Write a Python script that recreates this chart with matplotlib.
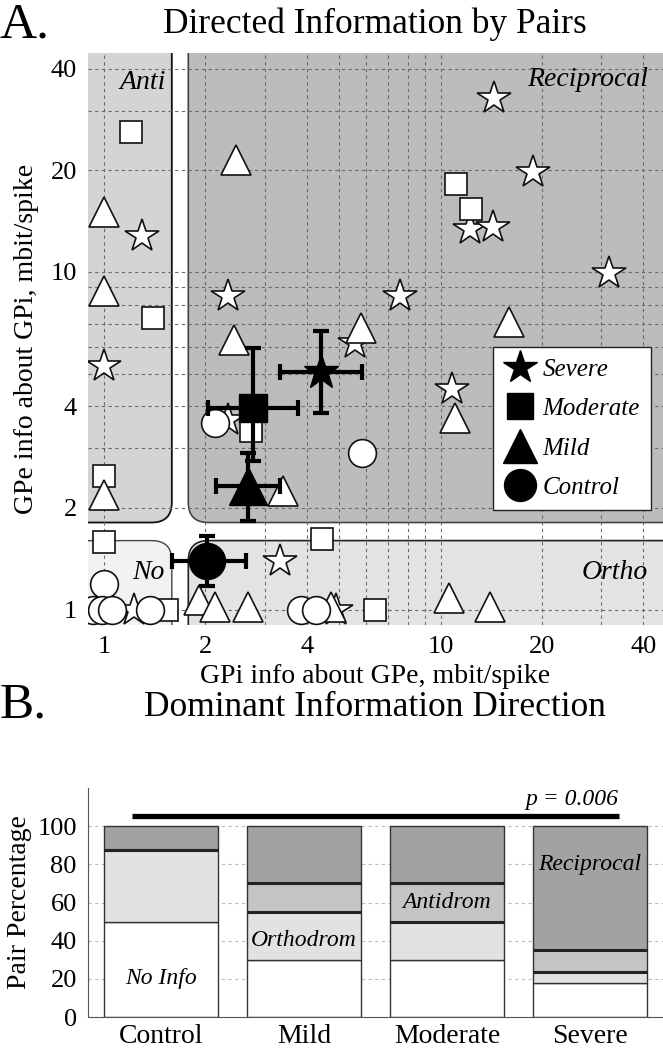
import matplotlib
matplotlib.use("Agg")
import matplotlib.pyplot as plt
from matplotlib.patches import FancyBboxPatch
from matplotlib.lines import Line2D

plt.rcParams["font.family"] = ["Liberation Serif", "DejaVu Serif"]

# ---- panel A: single pairs, (GPi info about GPe, GPe info about GPi), mbit/spike
severe_x = [1.295, 2.33, 7.58, 14.4, 18.8, 12.2, 14.3, 31.7, 5.57, 1.0, 10.8, 3.33, 1.23, 4.88, 2.33]
severe_y = [12.8, 8.46, 8.46, 32.7, 19.8, 13.4, 13.6, 9.92, 6.16, 5.25, 4.5, 1.39, 1.0, 1.0, 3.65]

moderate_x = [1.2, 1.40, 11.1, 12.3, 2.74, 1.0, 1.0, 4.45, 6.39, 1.54]
moderate_y = [25.9, 7.3, 18.2, 15.4, 3.37, 2.48, 1.58, 1.62, 1.0, 1.0]

mild_x = [2.47, 1.0, 1.0, 2.44, 5.82, 16.0, 11.0, 1.0, 3.41, 1.91, 2.13, 2.68, 4.71, 10.6, 14.0]
mild_y = [21.5, 15.0, 8.75, 6.3, 6.84, 7.13, 3.69, 2.19, 2.25, 1.07, 1.02, 1.02, 1.02, 1.085, 1.02]

control_x = [2.14, 5.83, 1.0, 0.93, 0.985, 1.055, 1.37, 3.85, 4.26]
control_y = [3.57, 2.9, 1.19, 1.0, 1.0, 1.0, 1.0, 1.0, 1.0]

# group means with error ranges
groups = ["Severe", "Moderate", "Mild", "Control"]
mean_x = [4.40, 2.78, 2.68, 2.02]
mean_y = [5.07, 3.95, 2.32, 1.39]
x_lo = [3.33, 2.03, 2.15, 1.59]
x_hi = [5.86, 3.78, 3.33, 2.64]
y_lo = [3.82, 2.75, 1.83, 1.17]
y_hi = [6.67, 5.95, 2.91, 1.65]

x_ticks = [1, 2, 4, 10, 20, 40]
y_ticks = [1, 2, 4, 10, 20, 40]
grid_vals = [1, 2, 3, 4, 5, 6, 7, 8, 9, 10, 20, 30, 40]

# ---- panel B: dominant direction, % of pairs
categories = ["Control", "Mild", "Moderate", "Severe"]
no_info = [50, 30, 30, 17.6]
orthodrom = [37.5, 25, 20, 5.9]
antidrom = [0, 15, 20, 11.8]
reciprocal = [12.5, 30, 30, 64.7]

MARKERS = {"Severe": "*", "Moderate": "s", "Mild": "^", "Control": "o"}
OPEN_MS = {"Severe": 25, "Moderate": 16, "Mild": 22, "Control": 20}
MEAN_MS = {"Severe": 26, "Moderate": 20, "Mild": 27, "Control": 26}
LEG_MS = {"Severe": 25, "Moderate": 19, "Mild": 25, "Control": 23}

fig = plt.figure(figsize=(6.63, 10.5), dpi=100)

# =================== A ===================
ax = fig.add_axes([0.1327, 0.4048, 0.8673, 0.5450])
ax.set_xscale("log")
ax.set_yscale("log")
ax.set_xlim(0.896, 45.8)
ax.set_ylim(0.9, 44.6)
for s in ax.spines.values():
    s.set_visible(False)

ax.set_xticks(x_ticks)
ax.set_xticklabels([str(t) for t in x_ticks])
ax.set_yticks(y_ticks)
ax.set_yticklabels([str(t) for t in y_ticks])
ax.set_xticks(grid_vals, minor=True)
ax.set_yticks(grid_vals, minor=True)
ax.tick_params(which="both", length=0, labelsize=19)
ax.tick_params(axis="x", pad=8)
ax.tick_params(axis="y", pad=8)
ax.tick_params(which="minor", labelbottom=False, labelleft=False)
ax.set_axisbelow(True)
ax.grid(which="both", color="#6a6a6a", lw=0.8, linestyle=(0, (3, 3)))


def frac(x, y):
    return ax.transAxes.inverted().transform(ax.transData.transform((x, y)))


# quadrant backgrounds (split between ~1.6 and ~1.8 mbit/spike)
xl, yl = frac(1.59, 1.60)
xr, yu = frac(1.78, 1.81)
R = "round,pad=0,rounding_size=0.035"
regions = [
    # (x0, y0, x1, y1, face, edge, lw)
    (-0.3, yu, xl, 1.3, "#d4d4d4", "#111111", 1.3),   # anti
    (xr, yu, 1.3, 1.3, "#bcbcbc", "#444444", 1.2),    # reciprocal
    (xr, -0.3, 1.3, yl, "#e3e3e3", "#222222", 1.2),   # ortho
    (-0.3, -0.3, xl, yl, "#f2f2f2", "#444444", 1.0),  # no info
]
for x0, y0, x1, y1, fc, ec, lw in regions:
    ax.add_patch(FancyBboxPatch((x0, y0), x1 - x0, y1 - y0, boxstyle=R,
                                transform=ax.transAxes, fc=fc, ec=ec, lw=lw,
                                zorder=0.1))

lab = dict(transform=ax.transAxes, style="italic", size=20, va="center")
ax.text(0.136, 0.948, "Anti", ha="right", **lab)
ax.text(0.974, 0.954, "Reciprocal", ha="right", **lab)
ax.text(0.134, 0.091, "No", ha="right", **lab)
ax.text(0.973, 0.091, "Ortho", ha="right", **lab)

pts = {"Severe": (severe_x, severe_y), "Moderate": (moderate_x, moderate_y),
       "Mild": (mild_x, mild_y), "Control": (control_x, control_y)}
for i, g in enumerate(groups):
    gx, gy = pts[g]
    ax.plot(gx, gy, ls="none", marker=MARKERS[g], ms=OPEN_MS[g], mfc="white",
            mec="#111111", mew=1.2, zorder=2 + i)

for i, g in enumerate(groups):
    ax.errorbar([mean_x[i]], [mean_y[i]],
                xerr=[[mean_x[i] - x_lo[i]], [x_hi[i] - mean_x[i]]],
                yerr=[[mean_y[i] - y_lo[i]], [y_hi[i] - mean_y[i]]],
                fmt=MARKERS[g], color="black", ms=MEAN_MS[g], elinewidth=3,
                capsize=6, capthick=3, zorder=10)

handles = [Line2D([], [], ls="none", marker=MARKERS[g], color="black",
                  ms=LEG_MS[g]) for g in groups]
leg = ax.legend(handles, groups, loc="upper left", bbox_to_anchor=(0.704, 0.486),
                borderaxespad=0, frameon=True, fancybox=False, framealpha=1,
                edgecolor="#222222", prop=dict(style="italic", size=18),
                labelspacing=0.68, handlelength=1.25, handletextpad=0.3,
                borderpad=0.45)
leg.set_zorder(20)

ax.set_xlabel("GPi info about GPe, mbit/spike", fontsize=20, labelpad=4)
ax.set_ylabel("GPe info about GPi, mbit/spike", fontsize=20, labelpad=8)

fig.text(0.0, 1 - 25 / 1050, "A.", ha="left", va="center", size=37)
fig.text(0.566, 1 - 24 / 1050, "Directed Information by Pairs", ha="center",
         va="center", size=25.5)

# =================== B ===================
bx = fig.add_axes([0.1327, 0.0314, 0.8673, 0.2181])
pos = list(range(1, len(categories) + 1))
bottom = [0.0] * len(categories)
layers = [(no_info, "white"), (orthodrom, "#e2e2e2"),
          (antidrom, "#c4c4c4"), (reciprocal, "#a2a2a2")]
for vals, fc in layers:
    bx.bar(pos, vals, bottom=bottom, width=0.8, color=fc, edgecolor="#333333",
           lw=1.0, zorder=2)
    if vals is antidrom:
        # antidromic segment is drawn with heavier borders
        for p, b, v in zip(pos, bottom, vals):
            bx.hlines([b, b + v], p - 0.4, p + 0.4, color="#222222", lw=2.2,
                      zorder=3)
    bottom = [b + v for b, v in zip(bottom, vals)]

bx.set_xlim(0.49, 4.51)
bx.set_ylim(0, 120)
bx.set_yticks([0, 20, 40, 60, 80, 100])
bx.set_xticks(pos)
bx.set_xticklabels(categories)
bx.tick_params(length=0, labelsize=19)
bx.tick_params(axis="x", pad=5, labelsize=20)
bx.tick_params(axis="y", pad=8)
for side in ("top", "right"):
    bx.spines[side].set_visible(False)
for side in ("left", "bottom"):
    bx.spines[side].set_color("#555555")
bx.set_axisbelow(True)
bx.yaxis.grid(True, color="#bbbbbb", lw=0.8, linestyle=(0, (3, 3)))
bx.set_ylabel("Pair Percentage", fontsize=20, labelpad=4)

bx.plot([0.8, 4.2], [105.4, 105.4], color="black", lw=3.8,
        solid_capstyle="butt", zorder=3)
bx.text(4.2, 108.5, "p = 0.006", ha="right", va="bottom", style="italic",
        size=17)

inbar = dict(ha="center", va="center", style="italic", size=17, zorder=4)
bx.text(1, 20, "No Info", **inbar)
bx.text(2, 40, "Orthodrom", **inbar)
bx.text(3, 60, "Antidrom", **inbar)
bx.text(4, 80, "Reciprocal", **inbar)

fig.text(0.0, 1 - 705 / 1050, "B.", ha="left", va="center", size=37)
fig.text(0.566, 1 - 708 / 1050, "Dominant Information Direction", ha="center",
         va="center", size=25.5)

fig.savefig("out.png", dpi=100)
